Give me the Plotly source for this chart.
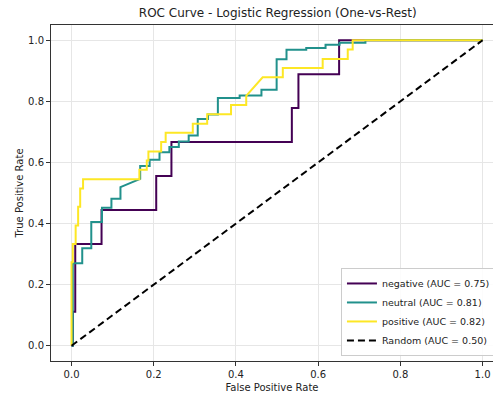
import plotly.graph_objects as go

# ROC points (FPR, TPR)
neg_fpr = [0.0, 0.003, 0.003, 0.009, 0.009, 0.073, 0.073, 0.206, 0.206, 0.243, 0.243,
           0.536, 0.536, 0.552, 0.552, 0.651, 0.651, 1.0]
neg_tpr = [0.0, 0.0, 0.111, 0.111, 0.333, 0.333, 0.444, 0.444, 0.556, 0.556, 0.667,
           0.667, 0.778, 0.778, 0.889, 0.889, 1.0, 1.0]

neu_fpr = [0.0, 0.003, 0.003, 0.026, 0.026, 0.048, 0.048, 0.074, 0.074, 0.097, 0.097,
           0.119, 0.119, 0.167, 0.167, 0.190, 0.190, 0.214, 0.214, 0.238, 0.238,
           0.261, 0.261, 0.285, 0.285, 0.307, 0.307, 0.332, 0.332, 0.356, 0.356,
           0.409, 0.409, 0.462, 0.462, 0.499, 0.499, 0.523, 0.523, 0.571, 0.571,
           0.618, 0.618, 0.652, 0.652, 0.715, 0.715, 1.0]
neu_tpr = [0.0, 0.0, 0.270, 0.270, 0.319, 0.319, 0.405, 0.405, 0.452, 0.452, 0.481,
           0.481, 0.519, 0.546, 0.588, 0.588, 0.609, 0.609, 0.633, 0.633, 0.651,
           0.651, 0.669, 0.669, 0.688, 0.688, 0.742, 0.742, 0.757, 0.757, 0.811,
           0.811, 0.819, 0.819, 0.838, 0.838, 0.938, 0.938, 0.969, 0.969, 0.975,
           0.975, 0.985, 0.985, 0.992, 0.992, 1.0, 1.0]

pos_fpr = [0.0, 0.0, 0.003, 0.003, 0.010, 0.010, 0.016, 0.016, 0.021, 0.021, 0.028,
           0.028, 0.051, 0.051, 0.165, 0.165, 0.183, 0.183, 0.187, 0.187, 0.218,
           0.218, 0.229, 0.229, 0.295, 0.295, 0.330, 0.330, 0.388, 0.388, 0.425,
           0.425, 0.465, 0.514, 0.514, 0.611, 0.611, 0.672, 0.672, 0.684, 0.684, 1.0]
pos_tpr = [0.0, 0.273, 0.273, 0.333, 0.333, 0.394, 0.394, 0.455, 0.455, 0.515, 0.515,
           0.545, 0.545, 0.545, 0.545, 0.576, 0.576, 0.606, 0.606, 0.636, 0.636,
           0.667, 0.667, 0.697, 0.697, 0.727, 0.727, 0.758, 0.758, 0.788, 0.788,
           0.818, 0.879, 0.879, 0.909, 0.909, 0.939, 0.939, 0.970, 0.970, 1.0, 1.0]

rand_fpr = [0.0, 1.0]
rand_tpr = [0.0, 1.0]

labels = ["negative (AUC = 0.75)", "neutral (AUC = 0.81)",
          "positive (AUC = 0.82)", "Random (AUC = 0.50)"]
colors = ["#440154", "#21918c", "#fde725", "black"]
tick_vals = [0.0, 0.2, 0.4, 0.6, 0.8, 1.0]
tick_text = ["0.0", "0.2", "0.4", "0.6", "0.8", "1.0"]

FONT = "DejaVu Sans"

fig = go.Figure()
for xs, ys, name, c in [(neg_fpr, neg_tpr, labels[0], colors[0]),
                        (neu_fpr, neu_tpr, labels[1], colors[1]),
                        (pos_fpr, pos_tpr, labels[2], colors[2])]:
    fig.add_trace(go.Scatter(x=xs, y=ys, mode="lines", name=name,
                             line=dict(color=c, width=2)))
fig.add_trace(go.Scatter(x=rand_fpr, y=rand_tpr, mode="lines", name=labels[3],
                         line=dict(color=colors[3], width=2, dash="7px,4px")))

axis_common = dict(
    showgrid=True, gridcolor="#e6e6e6", gridwidth=1,
    zeroline=False, showline=True, linecolor="#333333", linewidth=1,
    ticks="outside", ticklen=4, tickwidth=1, tickcolor="#333333",
    tickvals=tick_vals, ticktext=tick_text,
    tickfont=dict(family=FONT, size=10, color="#222222"),
)

fig.update_layout(
    width=493, height=396,
    margin=dict(l=51, r=0, t=25, b=35, autoexpand=False),
    paper_bgcolor="white", plot_bgcolor="white",
    font=dict(family=FONT, size=10, color="#222222"),
    title=dict(text="ROC Curve - Logistic Regression (One-vs-Rest)",
               x=0.513, xref="paper", xanchor="center",
               y=1 - 13 / 396, yref="container", yanchor="middle",
               font=dict(family=FONT, size=12, color="#222222")),
    xaxis=dict(range=[-0.05, 1.0254], mirror=True,
               title=dict(text="False Positive Rate", standoff=4,
                          font=dict(family=FONT, size=10, color="#222222")),
               **axis_common),
    yaxis=dict(range=[-0.05, 1.05], mirror=False,
               title=dict(text="True Positive Rate", standoff=2,
                          font=dict(family=FONT, size=10, color="#222222")),
               **axis_common),
    legend=dict(x=0.656, y=0.015, xanchor="left", yanchor="bottom",
                bgcolor="rgba(255,255,255,0.85)", bordercolor="#cccccc",
                borderwidth=1, font=dict(family=FONT, size=9.5, color="#222222"),
                itemwidth=30, tracegroupgap=0),
    showlegend=True,
)

fig.write_html(
    "out.html",
    config={"displayModeBar": False},
    post_script="document.body.style.margin='0px';document.body.style.overflow='hidden';",
)
